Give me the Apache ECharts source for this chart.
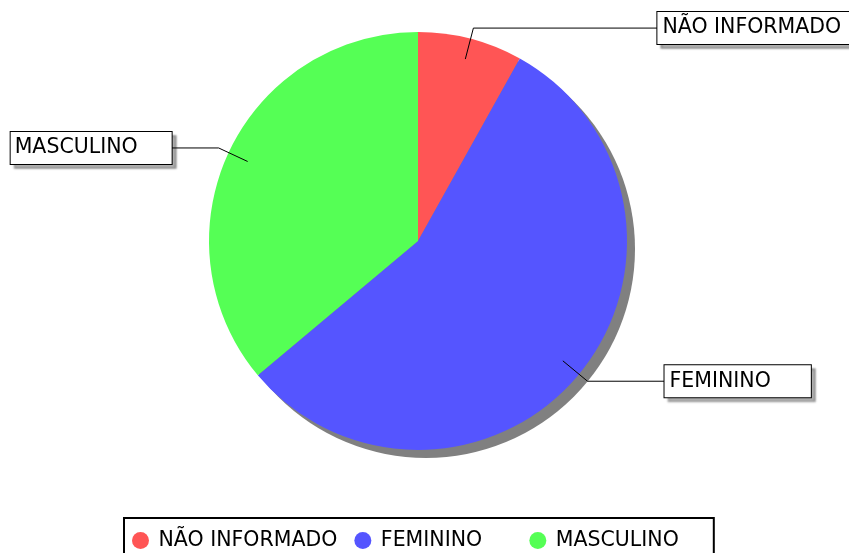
<!DOCTYPE html>
<html><head><meta charset="utf-8">
<script src="https://cdn.jsdelivr.net/npm/echarts@6/dist/echarts.min.js"></script>
<style>html,body{margin:0;padding:0;background:#fff}#c{width:849px;height:553px}</style>
</head><body><div id="c"></div>
<script>
// ---- data ----
const categories = ['NÃO INFORMADO', 'FEMININO', 'MASCULINO'];
const values = [8.1, 55.8, 36.1];

// ---- styling ----
const colors = ['#FF5555', '#5555FF', '#55FF55'];
const R = 209;                 // pie radius
const R_ANCHOR = 188;          // where the leader lines start (inside the pie)
const ELBOW = 220;             // radius of the leader elbow
const leaderLen2 = [184, 77, 47];
const labelPadding = [[4, 5, 4, 5], [4, 40, 4, 5], [4, 34, 4, 4]];
const labelWidth = [182, null, null];
const legendTail = ['', '\u00a0\u00a0\u00a0\u00a0\u2009', ''];
const FONT = 'DejaVu Sans';
const CENTER = [418, 241];

const total = values.reduce((a, b) => a + b, 0);

const chart = echarts.init(document.getElementById('c'), null, { renderer: 'canvas' });

const mainData = categories.map((name, i) => ({
  name: name,
  value: values[i],
  itemStyle: { color: colors[i] }
}));

const labelData = categories.map((name, i) => {
  const lbl = { padding: labelPadding[i] };
  if (labelWidth[i] != null) lbl.width = labelWidth[i];
  return {
    name: name,
    value: values[i],
    label: lbl,
    labelLine: { length: ELBOW - R_ANCHOR, length2: leaderLen2[i] }
  };
});

chart.setOption({
  backgroundColor: '#ffffff',
  animation: false,
  legend: {
    data: categories.map(n => ({ name: n })),
    formatter: function (name) {
      return name + legendTail[categories.indexOf(name)];
    },
    left: 124,
    top: 518,
    orient: 'horizontal',
    icon: 'circle',
    itemWidth: 26,
    itemHeight: 17,
    itemGap: 17,
    padding: [12, 35, 10, 8],
    borderColor: '#000',
    borderWidth: 2,
    borderRadius: 0,
    selectedMode: false,
    textStyle: { fontFamily: FONT, fontSize: 20.5, color: '#000' }
  },
  series: [
    {
      // drop shadow of the pie
      type: 'pie',
      silent: true,
      z: 1,
      center: [CENTER[0] + 8, CENTER[1] + 8],
      radius: R,
      data: [{ name: '_shadow', value: total }],
      itemStyle: { color: '#808080', borderWidth: 0 },
      label: { show: false },
      labelLine: { show: false },
      emphasis: { disabled: true },
      tooltip: { show: false }
    },
    {
      // the pie itself
      type: 'pie',
      z: 2,
      center: CENTER,
      radius: R,
      startAngle: 90,
      clockwise: true,
      data: mainData,
      itemStyle: { borderWidth: 0 },
      emphasis: { disabled: true },
      label: { show: false },
      labelLine: { show: false }
    },
    {
      // transparent inner pie carrying the labels, so the leaders start inside the slices
      type: 'pie',
      z: 3,
      silent: true,
      center: CENTER,
      radius: R_ANCHOR,
      startAngle: 90,
      clockwise: true,
      avoidLabelOverlap: false,
      bleedMargin: 0,
      data: labelData,
      itemStyle: { color: 'rgba(0,0,0,0)', borderWidth: 0 },
      emphasis: { disabled: true },
      label: {
        show: true,
        position: 'outside',
        formatter: '{b}',
        color: '#000',
        fontFamily: FONT,
        fontSize: 20.5,
        lineHeight: 24,
        backgroundColor: '#fff',
        borderColor: '#000',
        borderWidth: 1,
        shadowColor: 'rgba(0,0,0,0.3)',
        shadowBlur: 2,
        shadowOffsetX: 4,
        shadowOffsetY: 4,
        distanceToLabelLine: 0
      },
      labelLine: {
        show: true,
        lineStyle: { color: '#000', width: 1 }
      }
    }
  ]
});
</script>
</body></html>
